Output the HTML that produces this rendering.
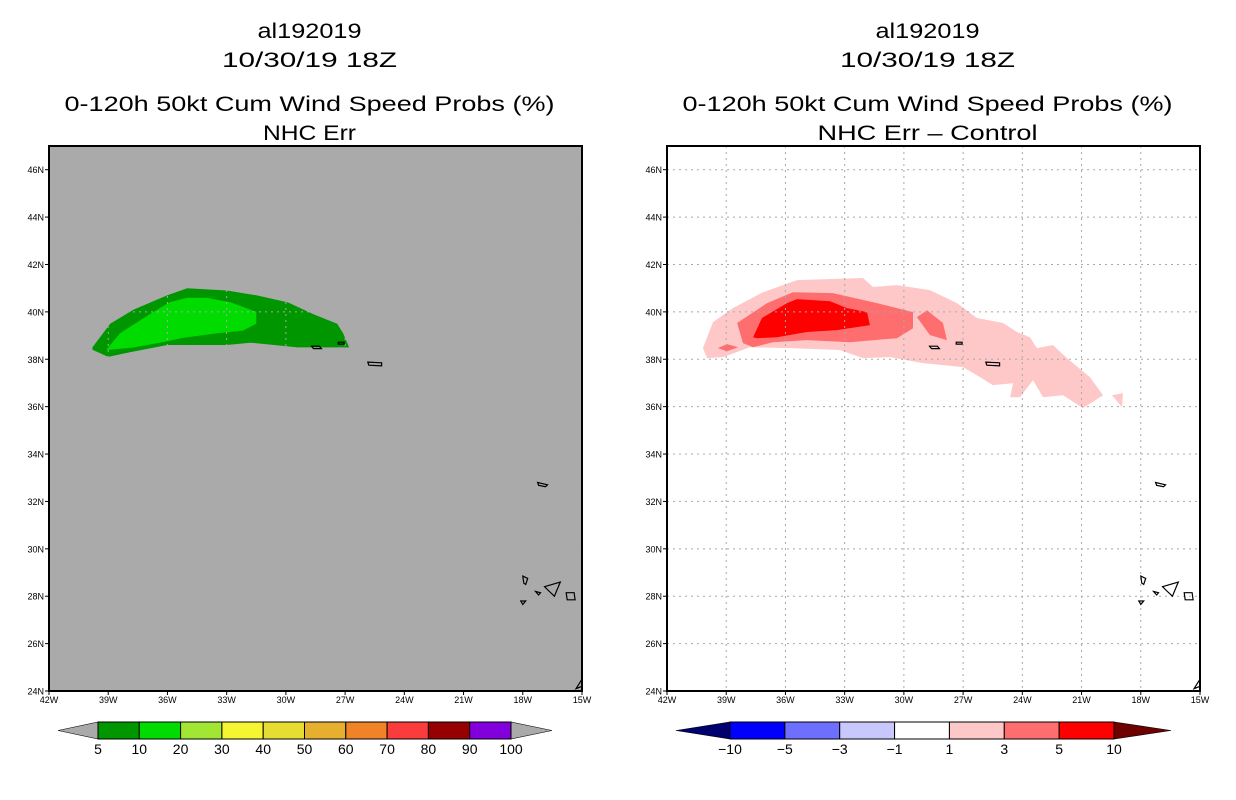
<!DOCTYPE html>
<html><head><meta charset="utf-8">
<style>
html,body{margin:0;padding:0;background:#fff;}
svg{display:block;font-family:"Liberation Sans",sans-serif;}
</style></head>
<body>
<svg id="chart" width="1236" height="800" viewBox="0 0 1236 800" xmlns="http://www.w3.org/2000/svg"></svg>
<script>
// ---- data ----
const lonTicks = [-42,-39,-36,-33,-30,-27,-24,-21,-18,-15];
const latTicks = [24,26,28,30,32,34,36,38,40,42,44,46];
const probLevels = ["5","10","20","30","40","50","60","70","80","90","100"];
const probColors = ["#009600","#00dc00","#a0e632","#f5f532","#e6dc32","#e6af2d","#f08228","#fa3c3c","#960000","#8200dc"];
const diffLevels = ["-10","-5","-3","-1","1","3","5","10"];
const diffColors = ["#0000ff","#6e6eff","#c8c8ff","#ffffff","#ffc8c8","#ff6e6e","#ff0000"];
// left panel contours (lon, lat)
const left5to10 = [[-39.8,38.5],[-38.9,39.5],[-37.7,40.1],[-36.0,40.7],[-35.0,41.0],[-33.0,40.9],[-31.5,40.7],[-29.9,40.4],[-28.6,39.9],[-27.4,39.5],[-27.1,39.1],[-26.8,38.5],[-29.4,38.5],[-31.8,38.7],[-33.0,38.6],[-36.0,38.6],[-37.9,38.3],[-39.0,38.1],[-39.8,38.4]];
const left10to20 = [[-39.1,38.4],[-38.4,39.1],[-36.9,39.9],[-35.9,40.4],[-35.0,40.6],[-34.0,40.6],[-32.8,40.4],[-31.5,40.0],[-31.5,39.5],[-32.2,39.2],[-33.5,39.1],[-35.2,38.9],[-36.4,38.7],[-37.7,38.5],[-38.9,38.4]];
// right panel contours
const diff1to3 = [[-40.18,38.47],[-39.67,39.57],[-38.66,40.16],[-37.14,40.83],[-35.41,41.34],[-32.07,41.43],[-31.56,41.05],[-30.35,41.13],[-28.68,40.92],[-27.31,40.37],[-26.30,39.74],[-24.98,39.53],[-24.27,39.15],[-23.61,38.93],[-23.26,38.47],[-22.45,38.60],[-21.74,38.05],[-20.57,37.24],[-19.91,36.48],[-20.93,35.94],[-21.94,36.48],[-22.95,36.40],[-23.46,37.12],[-24.12,36.40],[-24.62,36.40],[-24.47,36.99],[-25.49,36.91],[-26.14,37.24],[-27.00,37.67],[-29.03,37.84],[-30.70,38.09],[-32.07,38.05],[-33.24,38.39],[-35.77,38.47],[-37.80,38.51],[-39.16,38.09],[-39.97,38.05]];
const diff1to3b = [[-19.46,36.48],[-18.90,36.57],[-18.95,35.98]];
const diff3to5 = [[-38.45,39.53],[-36.93,40.37],[-35.62,40.83],[-33.59,40.79],[-31.36,40.37],[-29.54,39.99],[-29.54,39.31],[-30.35,38.89],[-32.73,38.72],[-34.91,38.81],[-36.63,38.72],[-37.64,38.51],[-38.15,38.68]];
const diff3to5b = [[-29.34,39.78],[-28.83,40.07],[-28.02,39.53],[-27.82,38.81],[-28.68,39.02]];
const diff3to5c = [[-39.42,38.47],[-38.96,38.64],[-38.40,38.51],[-38.96,38.34]];
const diff5to10 = [[-37.64,38.93],[-37.19,39.74],[-35.92,40.37],[-35.41,40.54],[-33.74,40.45],[-32.88,40.16],[-31.87,39.99],[-31.72,39.44],[-33.39,39.23],[-34.91,39.15],[-36.43,38.93],[-37.44,38.89]];
// islands
const islands = [
 [[-28.7,38.55],[-28.3,38.55],[-28.2,38.45],[-28.6,38.45]],
 [[-27.35,38.72],[-27.05,38.72],[-27.05,38.64],[-27.35,38.64]],
 [[-25.85,37.88],[-25.15,37.85],[-25.15,37.72],[-25.8,37.75]],
 [[-17.25,32.8],[-16.75,32.7],[-16.85,32.62],[-17.2,32.68]],
 [[-18.0,28.85],[-17.75,28.75],[-17.85,28.5],[-17.95,28.55]],
 [[-17.35,28.2],[-17.1,28.15],[-17.2,28.05]],
 [[-16.9,28.4],[-16.1,28.6],[-16.4,28.0],[-16.65,28.2]],
 [[-18.1,27.8],[-17.85,27.8],[-18.0,27.65]],
 [[-15.8,28.15],[-15.4,28.15],[-15.35,27.85],[-15.75,27.85]],
 [[-15.3,24.1],[-15.0,24.5],[-15.0,24.2]]
];
// ---- drawing ----
const NS="http://www.w3.org/2000/svg";
const svg=document.getElementById('chart');
function el(tag,attrs,parent){const e=document.createElementNS(NS,tag);for(const k in attrs)e.setAttribute(k,attrs[k]);(parent||svg).appendChild(e);return e;}
const W=533,H=545,TOP=146,LON0=-42,LON1=-15,LAT0=24,LAT1=47;
function makeMap(x0){
  const xs=lon=>x0+(lon-LON0)/(LON1-LON0)*W;
  const ys=lat=>TOP+(LAT1-lat)/(LAT1-LAT0)*H;
  return {xs,ys};
}
function poly(pts,m,fill,stroke,name,g){
  const p=el('polygon',{points:pts.map(q=>m.xs(q[0]).toFixed(1)+','+m.ys(q[1]).toFixed(1)).join(' '),fill:fill,stroke:stroke||'none','stroke-width':stroke?1.2:0},g);
  
  
  return p;
}
function txt(x,y,s,size,anchor,len,name,g){
  const t=el('text',{x:x,y:y,'font-size':size,'text-anchor':anchor||'middle',fill:'#000'},g);
  if(len){t.setAttribute('textLength',len);t.setAttribute('lengthAdjust','spacingAndGlyphs');}
  t.textContent=s;
  
  
  return t;
}
function panel(x0,bg,titles,lens,fills,panelName){
  const g=el('g',{});
  
  
  const m=makeMap(x0);
  const cx=x0+W/2-6;
  txt(cx,38,titles[0],21,'middle',lens[0],'title-storm',g);
  txt(cx,67,titles[1],21,'middle',lens[1],'title-date',g);
  txt(cx,111,titles[2],21,'middle',lens[2],'title-product',g);
  txt(cx,140,titles[3],21,'middle',lens[3],'subtitle',g);
  const bgR=el('rect',{x:x0,y:TOP,width:W,height:H,fill:bg},g);
  
  
  fills.forEach(f=>poly(f[0],m,f[1],null,f[2],g));
  lonTicks.slice(1,-1).forEach(l=>{const ln=el('line',{x1:m.xs(l),x2:m.xs(l),y1:TOP,y2:TOP+H,stroke:'#a8a8a8','stroke-dasharray':'2,4','stroke-width':1},g);
    });
  latTicks.slice(1).forEach(l=>{const ln=el('line',{x1:x0,x2:x0+W,y1:m.ys(l),y2:m.ys(l),stroke:'#a8a8a8','stroke-dasharray':'2,4','stroke-width':1},g);
    });
  islands.forEach(p=>poly(p,m,'none','#000','island-outline',g));
  const fr=el('rect',{x:x0,y:TOP,width:W,height:H,fill:'none',stroke:'#000','stroke-width':2},g);
  
  lonTicks.forEach(l=>{el('line',{x1:m.xs(l),x2:m.xs(l),y1:TOP+H,y2:TOP+H+4,stroke:'#000'},g);
    txt(m.xs(l),TOP+H+12,(-l)+'W',9,'middle',null,'x-tick-label',g);});
  latTicks.forEach(l=>{el('line',{x1:x0-4,x2:x0,y1:m.ys(l),y2:m.ys(l),stroke:'#000'},g);
    txt(x0-5,m.ys(l)+3.5,l+'N',9,'end',null,'y-tick-label',g);});
  return m;
}
panel(49,'#aaaaaa',['al192019','10/30/19 18Z','0-120h 50kt Cum Wind Speed Probs (%)','NHC Err'],[104,175,490,93],
  [[left5to10,probColors[0],'contour-5-10'],[left10to20,probColors[1],'contour-10-20']],'left-panel');
panel(667,'#ffffff',['al192019','10/30/19 18Z','0-120h 50kt Cum Wind Speed Probs (%)','NHC Err \u2013 Control'],[104,175,490,220],
  [[diff1to3,diffColors[4],'contour-1-3'],[diff1to3b,diffColors[4],'contour-1-3'],[diff3to5,diffColors[5],'contour-3-5'],[diff3to5b,diffColors[5],'contour-3-5'],[diff3to5c,diffColors[5],'contour-3-5'],[diff5to10,diffColors[6],'contour-5-10']],'right-panel');

function colorbar(tl,b0,b1,tr,colors,levels,lowCol,highCol,name){
  const g=el('g',{});
  
  
  const y0=722,y1=739,ym=(y0+y1)/2,bw=(b1-b0)/colors.length;
  const t1=el('polygon',{points:`${tl},${ym} ${b0},${y0} ${b0},${y1}`,fill:lowCol,stroke:'#000','stroke-width':0.6},g);
  
  const t2=el('polygon',{points:`${tr},${ym} ${b1},${y0} ${b1},${y1}`,fill:highCol,stroke:'#000','stroke-width':0.6},g);
  
  colors.forEach((c,i)=>{const r=el('rect',{x:b0+i*bw,y:y0,width:bw,height:y1-y0,fill:c,stroke:'#000','stroke-width':1},g);
    });
  levels.forEach((s,i)=>{txt(b0+i*bw,754,s.replace('-','\u2212'),14,'middle',null,'colorbar-label',g);});
}
colorbar(58,98,511,552,probColors,probLevels,'#aaaaaa','#aaaaaa','prob-colorbar');
colorbar(676,730,1114,1171,diffColors,diffLevels,'#00006e','#6e0000','diff-colorbar');
</script>
</body></html>
